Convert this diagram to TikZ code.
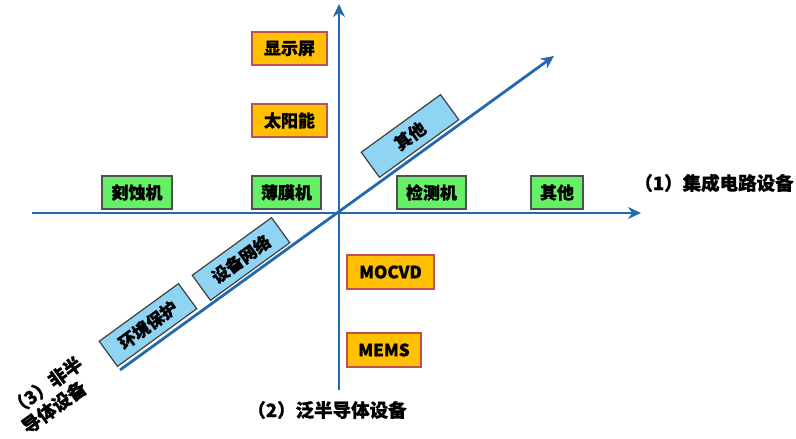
\documentclass[tikz,border=0pt]{standalone}
\usepackage{fontspec}
\newfontfamily\cjk{Noto Sans CJK SC}[BoldFeatures={FakeBold=0.8}]
\usetikzlibrary{arrows.meta}
\definecolor{axisblue}{HTML}{2369AD}
\definecolor{gfill}{HTML}{66F066}
\definecolor{gborder}{HTML}{505050}
\definecolor{ofill}{HTML}{FFC000}
\definecolor{oborder}{HTML}{C0504D}
\definecolor{bfill}{HTML}{8FD4F2}
\definecolor{bborder}{HTML}{404040}
\tikzset{
  axis/.style={draw=axisblue, line width=2.8pt, -{Stealth[length=13pt,width=12pt]}},
  boxtext/.style={font=\cjk\bfseries\fontsize{17}{20}\selectfont, inner sep=0pt, text=black},
  gbox/.style={boxtext, draw=gborder, fill=gfill, line width=1.3pt, minimum height=33pt},
  obox/.style={boxtext, draw=oborder, fill=ofill, line width=1.3pt, minimum height=33pt},
  bbox/.style={boxtext, draw=bborder, fill=bfill, line width=1.2pt, minimum width=98pt, minimum height=31pt, rotate=36},
  lbl/.style={font=\cjk\bfseries\fontsize{18.5}{22}\selectfont, inner sep=0pt, text=black}
}
\begin{document}
\begin{tikzpicture}[x=1pt,y=-1pt]
\useasboundingbox (0,0) rectangle (796,439);
\fill[white] (0,0) rectangle (796,439);
% axis endpoints
\coordinate (O) at (339,213);
\coordinate (xs) at (32,213);
\coordinate (xe) at (641,213);
\coordinate (ys) at (339,390);
\coordinate (ye) at (339,4);
\coordinate (ds) at (120,370);
\coordinate (de) at (554,56);
\draw[axis] (xs) -- (xe);
\draw[axis] (ys) -- (ye);
\draw[axis] (ds) -- (de);
% green boxes
\node[gbox, minimum width=70pt] (etch) at (137,192.5) {刻蚀机};
\node[gbox, minimum width=69pt] (film) at (286.5,192.5) {薄膜机};
\node[gbox, minimum width=69pt] (insp) at (431.5,192.5) {检测机};
\node[gbox, minimum width=52pt] (oth1) at (557,192.5) {其他};
% orange boxes
\node[obox, minimum width=75pt] (disp) at (289.5,48.5) {显示屏};
\node[obox, minimum width=75pt] (solar) at (289.5,120.5) {太阳能};
\node[obox, minimum width=87pt, minimum height=34pt] (mocvd) at (390.5,272) {MOCVD};
\node[obox, minimum width=74pt, minimum height=34pt] (mems) at (384,350) {MEMS};
% blue rotated boxes
\node[bbox] (oth2) at (410,136) {其他};
\node[bbox] (net) at (241,259) {设备网络};
\node[bbox] (env) at (148,325) {环境保护};
% axis labels
\node[lbl] (l1) at (714,183) {（1）集成电路设备};
\node[lbl] (l2) at (327,410) {（2）泛半导体设备};
\node[lbl, rotate=36, align=left] (l3) at (52,395) {（3）非半\\导体设备};
\end{tikzpicture}
\end{document}
